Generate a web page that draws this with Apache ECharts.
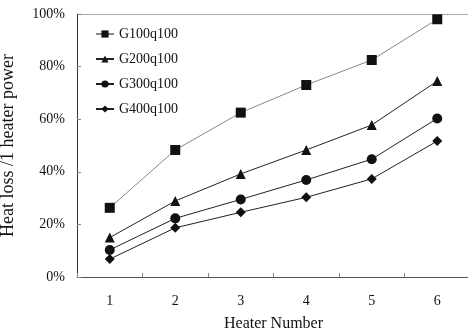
<!DOCTYPE html>
<html>
<head>
<meta charset="utf-8">
<script src="https://cdn.jsdelivr.net/npm/echarts@6/dist/echarts.min.js"></script>
<style>
  html, body { margin: 0; padding: 0; background: #fff; }
  #chart { width: 468px; height: 333px; }
</style>
</head>
<body>
<div id="chart"></div>
<script>
// heater positions along x
const heaters = ["1", "2", "3", "4", "5", "6"]
// heat loss as fraction of one heater's power (%)
const g100 = [26.3, 48.3, 62.5, 73, 82.5, 98]
const g200 = [15, 28.9, 39.2, 48.3, 57.8, 74.5]
const g300 = [10.3, 22.3, 29.5, 36.9, 44.8, 60.3]
const g400 = [6.8, 18.7, 24.6, 30.3, 37.3, 51.7]
const seriesNames = ["G100q100", "G200q100", "G300q100", "G400q100"]

const font = "Liberation Serif"
const ink = "#111"

const makeSeries = (name, data, symbol, size, lineColor) => ({
  name,
  type: "line",
  data,
  symbol,
  symbolSize: size,
  showSymbol: true,
  lineStyle: { color: lineColor, width: 1 },
  itemStyle: { color: ink, borderWidth: 0 },
  emphasis: { disabled: true },
})

const chart = echarts.init(document.getElementById("chart"), null, { renderer: "canvas" })
chart.setOption({
  animation: false,
  backgroundColor: "#fff",
  textStyle: { fontFamily: font, color: ink },
  grid: { left: 77, top: 14, width: 393, height: 263, outerBoundsMode: "none", containLabel: false },
  legend: {
    orient: "vertical",
    left: 90,
    top: 22,
    itemGap: 11,
    itemWidth: 18,
    itemHeight: 9,
    data: seriesNames,
    textStyle: { fontFamily: font, fontSize: 14, color: ink },
  },
  xAxis: [
    {
      type: "category",
      data: heaters,
      boundaryGap: true,
      name: "Heater Number",
      nameLocation: "middle",
      nameGap: 39,
      nameTextStyle: { fontFamily: font, fontSize: 16, color: ink },
      axisLine: { lineStyle: { color: "#555", width: 1 } },
      axisTick: { show: true, inside: true, length: 4, lineStyle: { color: "#888" } },
      axisLabel: { fontFamily: font, fontSize: 14, color: ink, margin: 17 },
    },
    {
      type: "category",
      data: heaters,
      position: "top",
      axisLine: { lineStyle: { color: "#999", type: "dotted", width: 1 } },
      axisTick: { show: false },
      axisLabel: { show: false },
    },
  ],
  yAxis: {
    type: "value",
    min: 0,
    max: 100,
    interval: 20,
    name: "Heat loss /1 heater power",
    nameLocation: "middle",
    nameGap: 60,
    nameTextStyle: { fontFamily: font, fontSize: 18, color: ink },
    axisLine: { show: true, lineStyle: { color: "#333", width: 1 } },
    axisTick: { show: true, inside: true, length: 4, lineStyle: { color: "#888" } },
    axisLabel: { fontFamily: font, fontSize: 14, color: ink, margin: 12, formatter: "{value}%" },
    splitLine: { show: false },
  },
  series: [
    makeSeries(seriesNames[0], g100, "rect", 10, "#888"),
    makeSeries(seriesNames[1], g200, "triangle", 10, "#222"),
    makeSeries(seriesNames[2], g300, "circle", 10, "#222"),
    makeSeries(seriesNames[3], g400, "diamond", 10, "#222"),
  ],
})
</script>
</body>
</html>
